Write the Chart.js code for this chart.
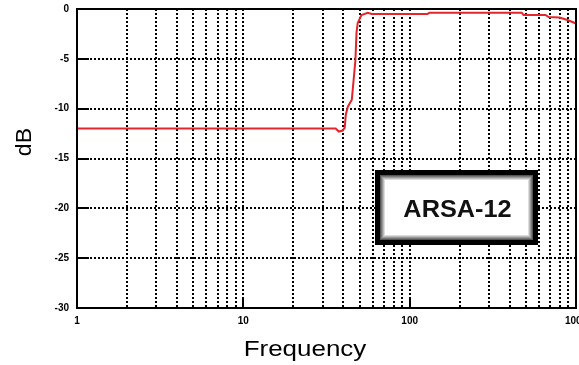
<!DOCTYPE html>
<html>
<head>
<meta charset="utf-8">
<script src="https://cdn.jsdelivr.net/npm/chart.js@4.4.1/dist/chart.umd.min.js"></script>
<style>
  html, body { margin: 0; padding: 0; background: #fff; }
  #wrap { width: 579px; height: 365px; }
</style>
</head>
<body>
<div id="wrap"><canvas id="chart" width="579" height="365"></canvas></div>
<script>
// response curve (Hz, dB)
const freqs = [1, 35.9, 37.5, 39.6, 40.7, 41.3, 42.5, 44.9, 47.2, 47.9, 48.7, 51.3, 56, 59.1, 128, 132, 471, 484, 656, 684, 795, 889, 1000];
const gains = [-12, -12, -12.3, -12.2, -11.9, -10.6, -9.8, -9.1, -5.1, -2.4, -1.4, -0.6, -0.37, -0.5, -0.5, -0.37, -0.37, -0.6, -0.6, -0.8, -0.85, -1.1, -1.45];

const decades = [1, 10, 100];
const xLabels = [1, 10, 100, 1000];
const xGrid = decades.flatMap(d => [1, 2, 3, 4, 5, 6, 7, 8, 9].map(m => m * d)).concat([1000]);
const yTicks = [0, -5, -10, -15, -20, -25, -30];
const boxLabel = 'ARSA-12';

const red = '#e4262c';

const decorPlugin = {
    id: 'decor',
    afterDatasetsDraw(chart) {
        const { ctx, chartArea: a, scales: { x, y } } = chart;
        ctx.save();
        // frame
        ctx.strokeStyle = '#000';
        ctx.lineWidth = 2;
        ctx.strokeRect(a.left, a.top, a.right - a.left, a.bottom - a.top);
        // inward major ticks
        ctx.beginPath();
        xLabels.slice(1, -1).forEach(v => {
            const px = Math.round(x.getPixelForValue(v));
            ctx.moveTo(px, a.bottom);
            ctx.lineTo(px, a.bottom - 10);
        });
        yTicks.slice(1, -1).forEach(v => {
            const py = Math.round(y.getPixelForValue(v));
            ctx.moveTo(a.left, py);
            ctx.lineTo(a.left + 12, py);
        });
        ctx.stroke();

        // label box
        const bx = 375, by = 170, bw = 163, bh = 75;
        ctx.fillStyle = '#000';
        ctx.fillRect(bx, by, bw, bh);
        ['#555', '#777', '#999', '#bbb', '#ddd', '#fff'].forEach((c, i) => {
            const k = 5 + i;
            ctx.fillStyle = c;
            ctx.fillRect(bx + k, by + k, bw - 2 * k, bh - 2 * k);
        });
        ctx.fillStyle = '#111';
        ctx.font = 'bold 23px "Liberation Sans", Arial, sans-serif';
        ctx.textAlign = 'center';
        ctx.textBaseline = 'alphabetic';
        ctx.save();
        ctx.translate(bx + bw / 2 + 1, 217);
        ctx.scale(1.1, 1);
        ctx.fillText(boxLabel, 0, 0);
        ctx.restore();

        // axis titles
        ctx.fillStyle = '#000';
        ctx.font = '22px "Liberation Sans", Arial, sans-serif';
        ctx.save();
        ctx.translate(305, 356);
        ctx.scale(1.18, 1);
        ctx.fillText('Frequency', 0, 0);
        ctx.restore();
        ctx.save();
        ctx.translate(31, 142);
        ctx.rotate(-Math.PI / 2);
        ctx.scale(1.05, 1);
        ctx.fillText('dB', 0, 0);
        ctx.restore();
        ctx.restore();
    }
};

new Chart(document.getElementById('chart'), {
    type: 'line',
    data: {
        datasets: [{
            data: freqs.map((f, i) => ({ x: f, y: gains[i] })),
            borderColor: red,
            borderWidth: 2,
            pointRadius: 0,
            tension: 0,
            fill: false
        }]
    },
    options: {
        responsive: false,
        animation: false,
        layout: { padding: { top: 9, right: 3, left: 0, bottom: 0 } },
        plugins: { legend: { display: false }, tooltip: { enabled: false } },
        scales: {
            x: {
                type: 'logarithmic',
                min: 1,
                max: 1000,
                afterBuildTicks: s => { s.ticks = xGrid.map(v => ({ value: v })); },
                afterFit: s => { s.height = 57; s.paddingLeft = 0; s.paddingRight = 0; },
                grid: { color: '#000', lineWidth: 2, drawTicks: false },
                border: { display: true, color: '#000', width: 2, dash: [2, 2] },
                ticks: {
                    autoSkip: false,
                    maxRotation: 0,
                    padding: 7,
                    color: '#000',
                    font: { family: '"Liberation Sans", Arial, sans-serif', size: 10, weight: 'bold' },
                    callback: v => xLabels.includes(v) ? String(v) : ''
                }
            },
            y: {
                min: -30,
                max: 0,
                afterBuildTicks: s => { s.ticks = yTicks.map(v => ({ value: v })); },
                afterFit: s => { s.width = 77; s.paddingTop = 0; s.paddingBottom = 0; },
                grid: { color: '#000', lineWidth: 2, drawTicks: false },
                border: { display: true, color: '#000', width: 2, dash: [2, 2] },
                ticks: {
                    padding: 8,
                    color: '#000',
                    font: { family: '"Liberation Sans", Arial, sans-serif', size: 10, weight: 'bold' }
                }
            }
        }
    },
    plugins: [decorPlugin]
});
</script>
</body>
</html>
